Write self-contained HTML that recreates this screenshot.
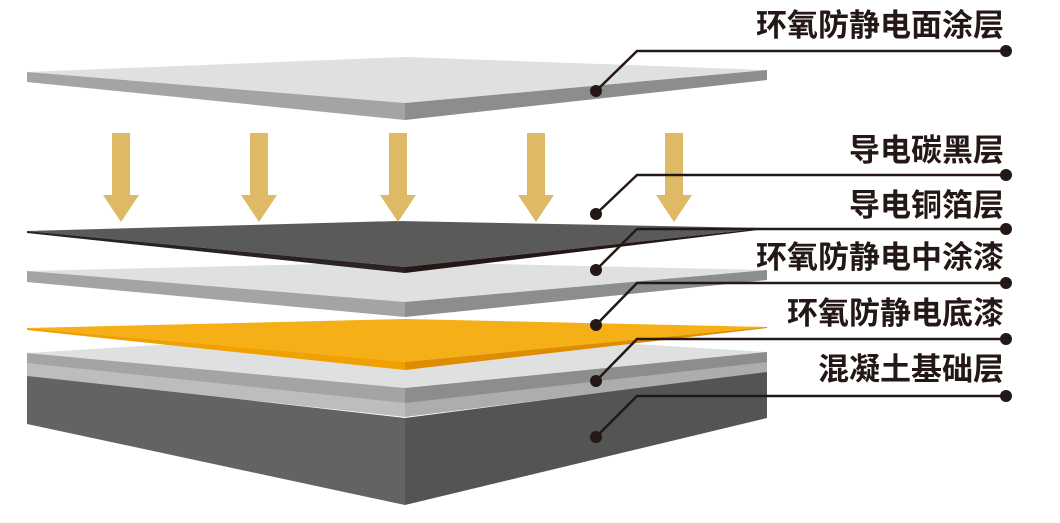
<!DOCTYPE html>
<html><head><meta charset="utf-8"><style>
html,body{margin:0;padding:0;background:#fff;}
svg{display:block;}
text{font-family:"Liberation Sans","Noto Sans CJK SC",sans-serif;font-size:31px;font-weight:bold;fill:#231815;text-anchor:end;}
</style></head><body>
<svg width="1060" height="523" viewBox="0 0 1060 523" xmlns="http://www.w3.org/2000/svg">
<!-- base block -->
<polygon points="27,375 405,418 405,505 27,424" fill="#636363"/>
<polygon points="405,418 767,371 767,418 405,505" fill="#545454"/>
<!-- light strip -->
<polygon points="27,362 405,402 405,417 27,376" fill="#bdbdbd"/>
<polygon points="405,402 767,361 767,372 405,417" fill="#adadad"/>
<!-- slab 3 -->
<polygon points="27,353 405,330 767,352 405,388" fill="#dfe0e0"/>
<polygon points="27,353 405,388 405,403 27,363" fill="#a3a4a4"/>
<polygon points="405,388 767,352 767,362 405,403" fill="#8c8d8d"/>
<!-- orange -->
<polygon points="27,328 405,319 767,327 405,362" fill="#f4b016"/>
<polygon points="27,328 405,362 405,370 27,330" fill="#f0a000"/>
<polygon points="405,362 767,327 767,328 405,370" fill="#e08c00"/>
<!-- slab 2 -->
<polygon points="27,271 405,262 767,270 405,302" fill="#dfe0e0"/>
<polygon points="27,271 405,302 405,317 27,282" fill="#a3a4a4"/>
<polygon points="405,302 767,270 767,280 405,317" fill="#8c8d8d"/>
<!-- dark sheet -->
<polygon points="27,231 398,221 766,228 405,267" fill="#5a5a5b"/>
<polygon points="27,231 405,267 405,273 27,233" fill="#2a2322"/>
<polygon points="405,267 766,228 766,229 405,273" fill="#231815"/>
<!-- top slab -->
<polygon points="27,72 405,57 767,70 405,103" fill="#dfe0e0"/>
<polygon points="27,72 405,103 405,120 27,82" fill="#a3a4a4"/>
<polygon points="405,103 767,70 767,80 405,120" fill="#8c8d8d"/>
<!-- arrows -->
<g fill="#dfba66">
<g id="ar"><rect x="112" y="133" width="18" height="63"/><polygon points="103,195 139,195 121,222"/></g>
<use href="#ar" x="138"/>
<use href="#ar" x="277"/>
<use href="#ar" x="415"/>
<use href="#ar" x="553"/>
</g>
<!-- callouts -->
<g stroke="#231815" stroke-width="2.5" fill="none">
<polyline points="596,91 637,51 1006,51"/>
<polyline points="596,214 637,175 1006,175"/>
<polyline points="596,270 637,229 1006,229"/>
<polyline points="596,325 637,283 1006,283"/>
<polyline points="596,381 637,339 1006,339"/>
<polyline points="596,437 637,396 1006,396"/>
</g>
<g fill="#231815">
<circle cx="596" cy="91" r="6"/><circle cx="1006" cy="51" r="6"/>
<circle cx="596" cy="214" r="6"/><circle cx="1006" cy="175" r="6"/>
<circle cx="596" cy="270" r="6"/><circle cx="1006" cy="229" r="6"/>
<circle cx="596" cy="325" r="6"/><circle cx="1006" cy="283" r="6"/>
<circle cx="596" cy="381" r="6"/><circle cx="1006" cy="339" r="6"/>
<circle cx="596" cy="437" r="6"/><circle cx="1006" cy="396" r="6"/>
</g>
<text x="1004" y="36">环氧防静电面涂层</text>
<text x="1004" y="161">导电碳黑层</text>
<text x="1004" y="216">导电铜箔层</text>
<text x="1004" y="268">环氧防静电中涂漆</text>
<text x="1004" y="324">环氧防静电底漆</text>
<text x="1004" y="380">混凝土基础层</text>
</svg>
</body></html>
